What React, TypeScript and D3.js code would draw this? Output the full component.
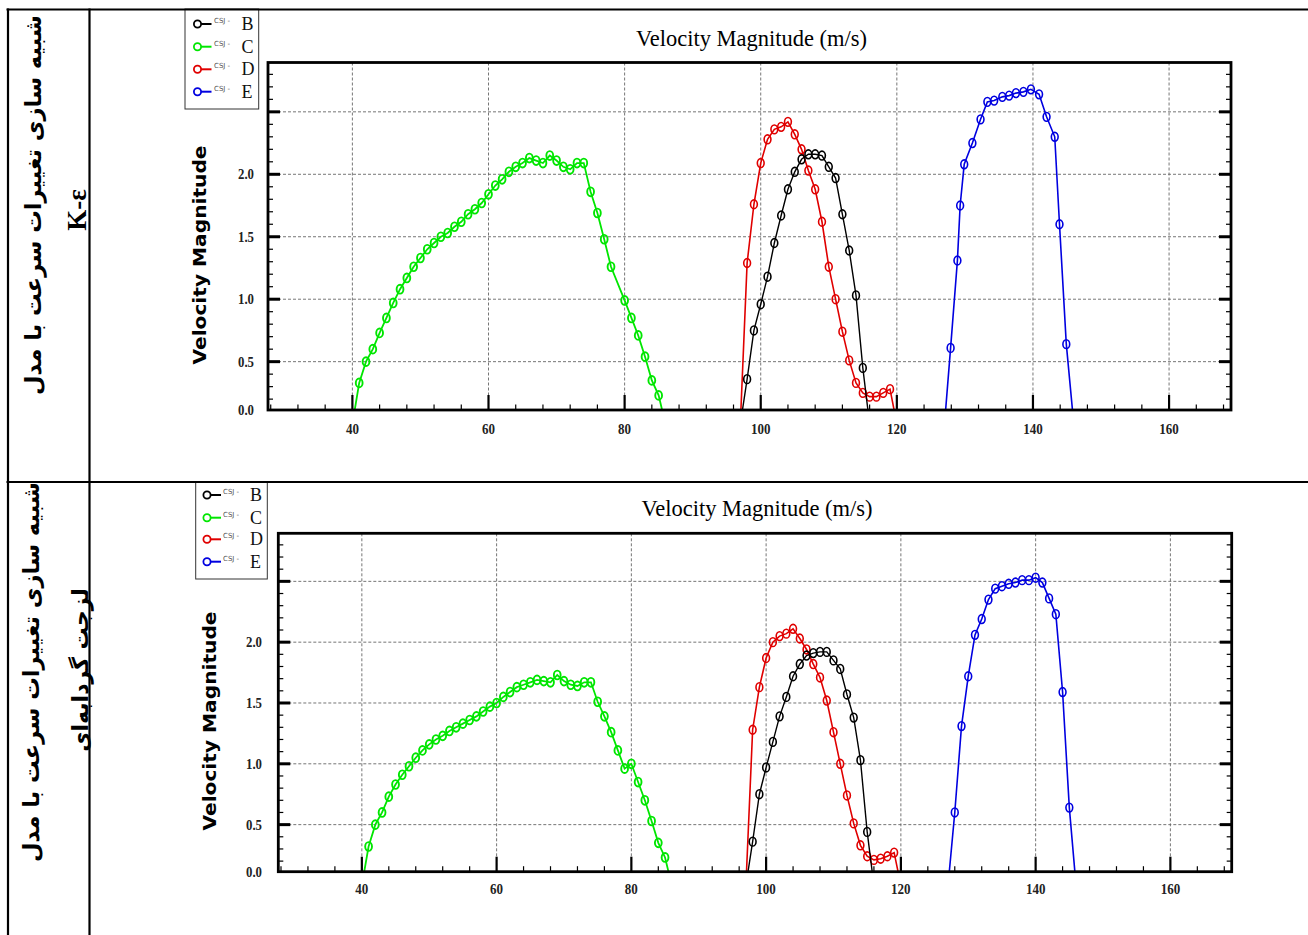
import React from 'react'
import * as d3 from 'd3'

type Pt = [number, number]

// axes (the source labels the base of the y axis "0.0" although it sits near 0.11)
const X_DOMAIN: [number, number] = [27.6, 169.1]
const Y_DOMAIN: [number, number] = [0.113, 2.895]
const xMajorTicks = [40, 60, 80, 100, 120, 140, 160]
const xTickLabels = ['40', '60', '80', '100', '120', '140', '160']
const yGridTicks = [0.5, 1.0, 1.5, 2.0, 2.5]
const yLabelValues = [0.113, 0.5, 1.0, 1.5, 2.0]
const yTickLabels = ['0.0', '0.5', '1.0', '1.5', '2.0']

const legendNames = ['B', 'C', 'D', 'E']
const seriesColors = ['#000000', '#00e600', '#e00000', '#0000e0']

// k-epsilon panel (first / last points are where the lines run on to zero below the axis)
const keB: Pt[] = [[97, 0], [98, 0.36], [99, 0.75], [100, 0.96], [101, 1.18], [102, 1.45], [103, 1.67], [104, 1.88], [105, 2.02], [106, 2.12], [107, 2.16], [108, 2.16], [109, 2.15], [110, 2.06], [111, 1.97], [112, 1.68], [113, 1.39], [114, 1.03], [115, 0.45], [116, 0]]
const keC: Pt[] = [[40, 0], [41, 0.33], [42, 0.5], [43, 0.6], [44, 0.73], [45, 0.85], [46, 0.97], [47, 1.08], [48, 1.17], [49, 1.26], [50, 1.33], [51, 1.4], [52, 1.45], [53, 1.5], [54, 1.53], [55, 1.58], [56, 1.62], [57, 1.68], [58, 1.72], [59, 1.77], [60, 1.84], [61, 1.91], [62, 1.96], [63, 2.02], [64, 2.06], [65, 2.09], [66, 2.13], [67, 2.11], [68, 2.09], [69, 2.15], [70, 2.11], [71, 2.06], [72, 2.04], [73, 2.09], [74, 2.09], [75, 1.86], [76, 1.69], [77, 1.48], [78, 1.26], [80, 0.99], [81, 0.85], [82, 0.71], [83, 0.54], [84, 0.35], [85, 0.23], [86, 0]]
const keD: Pt[] = [[97, 0], [98, 1.29], [99, 1.76], [100, 2.09], [101, 2.28], [102, 2.36], [103, 2.38], [104, 2.42], [105, 2.32], [106, 2.2], [107, 2.03], [108, 1.88], [109, 1.62], [110, 1.26], [111, 1.0], [112, 0.74], [113, 0.51], [114, 0.33], [115, 0.25], [116, 0.22], [117, 0.22], [118, 0.25], [119, 0.28], [120, 0]]
const keE: Pt[] = [[127, 0], [127.9, 0.61], [128.9, 1.31], [129.3, 1.75], [129.9, 2.08], [131.1, 2.25], [132.3, 2.44], [133.3, 2.58], [134.3, 2.59], [135.5, 2.62], [136.5, 2.63], [137.5, 2.65], [138.6, 2.66], [139.7, 2.68], [140.9, 2.64], [142, 2.46], [143.2, 2.3], [143.9, 1.6], [144.9, 0.64], [146, 0]]

// eddy-viscosity panel
const evB: Pt[] = [[97, 0], [98, 0.36], [99, 0.75], [100, 0.97], [101, 1.18], [102, 1.39], [103, 1.55], [104, 1.72], [105, 1.82], [106, 1.89], [107, 1.91], [108, 1.92], [109, 1.92], [110, 1.85], [111, 1.78], [112, 1.57], [113, 1.38], [114, 1.03], [115, 0.44], [116, 0]]
const evC: Pt[] = [[40, 0], [41, 0.32], [42, 0.5], [43, 0.6], [44, 0.73], [45, 0.83], [46, 0.91], [47, 0.98], [48, 1.05], [49, 1.11], [50, 1.16], [51, 1.2], [52, 1.23], [53, 1.27], [54, 1.3], [55, 1.33], [56, 1.36], [57, 1.39], [58, 1.43], [59, 1.47], [60, 1.5], [61, 1.55], [62, 1.59], [63, 1.63], [64, 1.65], [65, 1.67], [66, 1.69], [67, 1.68], [68, 1.67], [69, 1.73], [70, 1.68], [71, 1.65], [72, 1.64], [73, 1.67], [74, 1.67], [75, 1.51], [76, 1.39], [77, 1.26], [78, 1.11], [79, 0.96], [80, 1.0], [81, 0.85], [82, 0.7], [83, 0.53], [84, 0.35], [85, 0.23], [86, 0]]
const evD: Pt[] = [[97, 0], [98, 1.28], [99, 1.63], [100, 1.87], [101, 2.0], [102, 2.05], [103, 2.07], [104, 2.11], [105, 2.03], [106, 1.94], [107, 1.82], [108, 1.71], [109, 1.52], [110, 1.26], [111, 1.0], [112, 0.74], [113, 0.51], [114, 0.33], [115, 0.24], [116, 0.21], [117, 0.22], [118, 0.24], [119, 0.27], [120, 0]]
const evE: Pt[] = [[127, 0], [128, 0.6], [129, 1.31], [130, 1.72], [131, 2.06], [132, 2.19], [133, 2.35], [134, 2.44], [135, 2.46], [136, 2.48], [137, 2.49], [138, 2.51], [139, 2.51], [140, 2.53], [141, 2.49], [142, 2.36], [143, 2.23], [144, 1.59], [145, 0.64], [146, 0]]

const cellTitle1 = 'شبیه سازی تغییرات سرعت با مدل'
const cellTitle2Top = 'K-ε'
const cellTitle2Bottom = 'لزجت گردابه‌ای'

interface PanelProps {
  id: string
  frame: { left: number; right: number; top: number; bottom: number }
  legend: { left: number; right: number; top: number; bottom: number; rowY: number[]; circleX: number; csjX: number; letterX: number }
  yLabel: { x: number; y: number }
  titleY: number
  xLabelY: number
  yLabelRight: number
  data: Pt[][]
}

function Panel({ id, frame, legend, yLabel, titleY, xLabelY, yLabelRight, data }: PanelProps) {
  const x = d3.scaleLinear().domain(X_DOMAIN).range([frame.left, frame.right])
  const y = d3.scaleLinear().domain(Y_DOMAIN).range([frame.bottom, frame.top])
  const line = d3.line<Pt>().x(d => x(d[0])).y(d => y(d[1]))
  const xMinor = d3.range(28, 169, 4).filter(v => !xMajorTicks.includes(v))
  const yMinor = d3.range(2, 29).map(v => v / 10).filter(v => v > Y_DOMAIN[0] && Math.round(v * 10) % 5 !== 0)
  const order = [1, 3, 2, 0]
  return (
    <g>
      <defs>
        <clipPath id={id}>
          <rect x={frame.left} y={frame.top} width={frame.right - frame.left} height={frame.bottom - frame.top} />
        </clipPath>
      </defs>
      {/* grid */}
      {xMajorTicks.map(v => (
        <line key={'gx' + v} x1={x(v)} x2={x(v)} y1={frame.top} y2={frame.bottom} stroke="#666" strokeWidth={0.9} strokeDasharray="3 2" />
      ))}
      {yGridTicks.map(v => (
        <line key={'gy' + v} x1={frame.left} x2={frame.right} y1={y(v)} y2={y(v)} stroke="#666" strokeWidth={0.9} strokeDasharray="3 2" />
      ))}
      {/* ticks */}
      {xMinor.map(v => (
        <line key={'mx' + v} x1={x(v)} x2={x(v)} y1={frame.bottom} y2={frame.bottom - 5.5} stroke="#000" strokeWidth={1.2} />
      ))}
      {xMajorTicks.map(v => (
        <line key={'Mx' + v} x1={x(v)} x2={x(v)} y1={frame.bottom} y2={frame.bottom - 15} stroke="#000" strokeWidth={2.2} />
      ))}
      {yMinor.map(v => (
        <g key={'my' + v}>
          <line x1={frame.left} x2={frame.left + 5} y1={y(v)} y2={y(v)} stroke="#000" strokeWidth={1.2} />
          <line x1={frame.right} x2={frame.right - 5} y1={y(v)} y2={y(v)} stroke="#000" strokeWidth={1.2} />
        </g>
      ))}
      {yGridTicks.map(v => (
        <g key={'My' + v}>
          <line x1={frame.left} x2={frame.left + 12} y1={y(v)} y2={y(v)} stroke="#000" strokeWidth={3} />
          <line x1={frame.right} x2={frame.right - 12} y1={y(v)} y2={y(v)} stroke="#000" strokeWidth={3} />
        </g>
      ))}
      {/* series */}
      <g clipPath={`url(#${id})`}>
        {order.map(i => (
          <g key={'s' + i}>
            <path d={line(data[i]) || ''} fill="none" stroke={seriesColors[i]} strokeWidth={i === 1 ? 1.8 : i === 0 ? 1.4 : 1.6} />
            {data[i].map((p, j) => (
              <ellipse key={j} cx={x(p[0])} cy={y(p[1])} rx={3.4} ry={4.4} fill="none" stroke={seriesColors[i]} strokeWidth={i === 1 ? 1.9 : 1.6} />
            ))}
          </g>
        ))}
      </g>
      <rect x={frame.left} y={frame.top} width={frame.right - frame.left} height={frame.bottom - frame.top} fill="none" stroke="#000" strokeWidth={2.8} />
      {/* tick labels */}
      {xMajorTicks.map((v, i) => (
        <text key={'lx' + v} x={x(v)} y={xLabelY} textAnchor="middle" fontFamily="Liberation Serif" fontSize={14} fontWeight="bold" fill="#222" textLength={xTickLabels[i].length * 6.5} lengthAdjust="spacingAndGlyphs">{xTickLabels[i]}</text>
      ))}
      {yLabelValues.map((v, i) => (
        <text key={'ly' + i} x={yLabelRight} y={y(v) + 5} textAnchor="end" fontFamily="Liberation Serif" fontSize={14} fontWeight="bold" fill="#222" textLength={16} lengthAdjust="spacingAndGlyphs">{yTickLabels[i]}</text>
      ))}
      {/* titles */}
      <text x={(frame.left + frame.right) / 2 + 2} y={titleY} textAnchor="middle" fontFamily="Liberation Serif" fontSize={23} textLength={231} lengthAdjust="spacingAndGlyphs">Velocity Magnitude (m/s)</text>
      <text transform={`translate(${yLabel.x},${yLabel.y}) rotate(-90)`} textAnchor="middle" fontFamily="DejaVu Sans" fontWeight="bold" fontSize={17.5} textLength={219} lengthAdjust="spacingAndGlyphs" dy="0.35em">Velocity Magnitude</text>
      {/* legend */}
      <rect x={legend.left} y={legend.top} width={legend.right - legend.left} height={legend.bottom - legend.top} fill="#fff" stroke="#333" strokeWidth={1} />
      {legendNames.map((n, i) => (
        <g key={'lg' + n}>
          <line x1={legend.circleX + 3} x2={legend.circleX + 14} y1={legend.rowY[i]} y2={legend.rowY[i]} stroke={seriesColors[i]} strokeWidth={2} />
          <ellipse cx={legend.circleX} cy={legend.rowY[i]} rx={3.6} ry={3.6} fill="#fff" stroke={seriesColors[i]} strokeWidth={1.8} />
          <text x={legend.csjX} y={legend.rowY[i] - 1} fontFamily="DejaVu Sans" fontSize={7} fill="#555">CSJ -</text>
          <text x={legend.letterX} y={legend.rowY[i] + 6} fontFamily="Liberation Serif" fontSize={18} fill="#111">{n}</text>
        </g>
      ))}
    </g>
  )
}

export default function App() {
  return (
    <svg width={1308} height={935} style={{ position: 'absolute', left: 0, top: 0, background: '#fff' }}>
      <rect width={1308} height={935} fill="#fff" />
      <Panel
        id="clipTop"
        frame={{ left: 268, right: 1231, top: 62.5, bottom: 410 }}
        legend={{ left: 185, right: 258.7, top: 9, bottom: 109, rowY: [24, 46.7, 69.3, 91.7], circleX: 197.5, csjX: 214, letterX: 241.5 }}
        yLabel={{ x: 200, y: 255 }}
        titleY={46}
        xLabelY={434}
        yLabelRight={254}
        data={[keB, keC, keD, keE]}
      />
      <Panel
        id="clipBottom"
        frame={{ left: 278.3, right: 1231.7, top: 533.3, bottom: 871.7 }}
        legend={{ left: 195.7, right: 267.3, top: 482, bottom: 579, rowY: [495, 517.7, 539.3, 561.7], circleX: 207, csjX: 223, letterX: 250 }}
        yLabel={{ x: 210, y: 721 }}
        titleY={516}
        xLabelY={894}
        yLabelRight={262}
        data={[evB, evC, evD, evE]}
      />
      {/* table rules */}
      <line x1={6.5} x2={1308} y1={9.5} y2={9.5} stroke="#000" strokeWidth={2.2} />
      <line x1={6.5} x2={1308} y1={482} y2={482} stroke="#000" strokeWidth={2.2} />
      <line x1={8} x2={8} y1={8.5} y2={935} stroke="#000" strokeWidth={2.2} />
      <line x1={89.5} x2={89.5} y1={8.5} y2={935} stroke="#000" strokeWidth={2.2} />
      {/* row headings */}
      <text transform="translate(34,205) rotate(-90)" textAnchor="middle" dominantBaseline="middle" fontFamily="DejaVu Sans" fontWeight="bold" fontSize={22.5}>{cellTitle1}</text>
      <text transform="translate(80,210) rotate(-90)" textAnchor="middle" dominantBaseline="middle" fontFamily="Liberation Serif" fontWeight="bold" fontSize={27}>{cellTitle2Top}</text>
      <text transform="translate(32,672) rotate(-90)" textAnchor="middle" dominantBaseline="middle" fontFamily="DejaVu Sans" fontWeight="bold" fontSize={22.5}>{cellTitle1}</text>
      <text transform="translate(82,670) rotate(-90)" textAnchor="middle" dominantBaseline="middle" fontFamily="DejaVu Sans" fontWeight="bold" fontSize={22}>{cellTitle2Bottom}</text>
    </svg>
  )
}
